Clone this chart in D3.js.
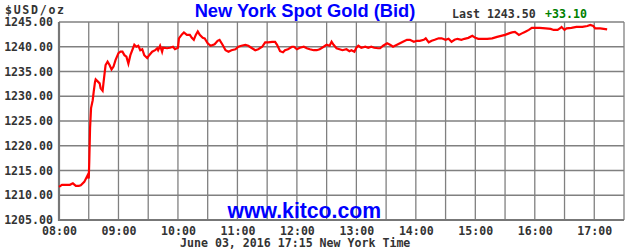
<!DOCTYPE html>
<html lang="en">
    <head>
        <meta charset="utf-8">
        <title>New York Spot Gold</title>
        <script type="text/javascript" src="https://cdn.jsdelivr.net/npm/d3@7/dist/d3.min.js"></script>
        <style>
            body { margin: 0; background: #fff; }
            .mono { font-family: "DejaVu Sans Mono", monospace; font-weight: bold; font-size: 11.6px; fill: #333; }
            .grid line { stroke: #808080; stroke-width: 1.3; }
        </style>
    </head>
    <body>
        <svg width="630" height="250"></svg>
        <script type="text/javascript">
            // spot price
            var times = ["08:00", "08:03", "08:07", "08:11", "08:14", "08:17", "08:20", "08:22",
                "08:25:30", "08:27", "08:29", "08:30", "08:30:30", "08:31:20", "08:32:20", "08:34",
                "08:35", "08:36:20", "08:37", "08:39", "08:41", "08:42", "08:44", "08:45", "08:46",
                "08:47", "08:49", "08:51", "08:53", "08:55", "08:57", "09:00", "09:02", "09:04",
                "09:06", "09:08", "09:10", "09:12", "09:16", "09:18", "09:20", "09:22", "09:24",
                "09:26", "09:29", "09:31", "09:34", "09:37", "09:39", "09:40", "09:42", "09:44",
                "09:45", "09:49", "09:52", "09:55", "09:57", "10:00", "10:01", "10:04", "10:06",
                "10:09", "10:12", "10:14", "10:16", "10:18", "10:20", "10:22", "10:25", "10:27",
                "10:30", "10:33", "10:37", "10:40", "10:42", "10:45", "10:48", "10:51", "10:54",
                "10:58", "11:01", "11:04", "11:08", "11:11", "11:14", "11:18", "11:21", "11:25",
                "11:28", "11:31", "11:35", "11:38", "11:40", "11:43", "11:46", "11:48", "11:51",
                "11:55", "11:57", "12:00", "12:03", "12:07", "12:10", "12:13", "12:17", "12:20",
                "12:23", "12:27", "12:30", "12:33", "12:35", "12:37", "12:40", "12:43", "12:46",
                "12:50", "12:53", "12:55", "12:58", "13:00", "13:02", "13:05", "13:09", "13:12",
                "13:15", "13:18", "13:22", "13:24", "13:27", "13:31", "13:34", "13:37", "13:41",
                "13:44", "13:47", "13:51", "13:54", "13:58", "14:01", "14:04", "14:08", "14:10",
                "14:13", "14:16", "14:19", "14:23", "14:26", "14:30", "14:33", "14:36", "14:39",
                "14:42", "14:46", "14:49", "14:53", "14:57", "15:00", "15:03", "15:07", "15:12",
                "15:17", "15:22", "15:26", "15:30", "15:34", "15:37", "15:40", "15:44", "15:47",
                "15:50", "15:54", "15:57", "16:00", "16:05", "16:11", "16:16", "16:19", "16:23",
                "16:26", "16:27", "16:30", "16:32", "16:37", "16:42", "16:48", "16:53", "16:56",
                "16:59", "17:01", "17:06", "17:13"];
            var prices = [1211.7, 1212.1, 1212.1, 1212.1, 1212.4, 1211.9, 1211.9, 1212.0,
                1212.7, 1213.3, 1214.1, 1213.4, 1216.5, 1223.6, 1227.6, 1229.2,
                1230.9, 1232.9, 1233.4, 1233.0, 1232.6, 1231.6, 1231.1, 1232.9, 1234.6,
                1236.3, 1237.0, 1236.3, 1235.4, 1236.0, 1237.3, 1238.7, 1239.0, 1239.0,
                1238.3, 1238.0, 1236.6, 1238.3, 1240.4, 1240.0, 1240.2, 1239.3, 1239.5,
                1238.3, 1237.7, 1238.3, 1239.0, 1239.3, 1239.7, 1239.3, 1240.2, 1239.0,
                1239.8, 1239.7, 1239.8, 1240.0, 1239.5, 1239.8, 1241.7, 1242.5, 1242.9,
                1242.4, 1242.4, 1241.8, 1241.4, 1242.4, 1243.1, 1242.4, 1241.8, 1241.7,
                1240.7, 1240.2, 1240.5, 1241.2, 1241.4, 1240.4, 1239.3, 1239.0, 1239.3,
                1239.5, 1240.0, 1240.2, 1240.4, 1240.2, 1239.8, 1239.3, 1239.5, 1240.0,
                1240.9, 1240.9, 1241.0, 1241.0, 1240.4, 1239.1, 1238.9, 1239.3, 1239.5,
                1240.0, 1240.0, 1239.5, 1239.8, 1240.0, 1239.7, 1239.5, 1239.3, 1239.3,
                1239.5, 1240.0, 1240.4, 1240.2, 1241.0, 1240.4, 1239.7, 1239.5, 1239.3,
                1239.5, 1239.1, 1239.3, 1239.0, 1239.8, 1240.2, 1239.8, 1240.0, 1239.8,
                1240.0, 1239.8, 1239.7, 1239.7, 1240.2, 1240.7, 1240.4, 1240.0, 1240.4,
                1240.7, 1241.0, 1241.4, 1241.4, 1241.0, 1241.2, 1241.2, 1241.4, 1241.7,
                1240.9, 1241.2, 1241.4, 1241.7, 1241.7, 1241.4, 1241.6, 1241.0, 1241.4,
                1241.6, 1241.4, 1241.6, 1241.8, 1242.2, 1241.8, 1241.6, 1241.6, 1241.6,
                1241.7, 1242.0, 1242.2, 1242.4, 1242.7, 1242.9, 1243.0, 1242.4, 1242.7,
                1243.0, 1243.4, 1243.8, 1243.8, 1243.8, 1243.7, 1243.6, 1243.4, 1243.4,
                1243.8, 1244.0, 1243.4, 1243.7, 1243.8, 1244.0, 1244.0, 1244.2, 1244.4,
                1244.2, 1243.7, 1243.7, 1243.5];

            var yTicks = [1205, 1210, 1215, 1220, 1225, 1230, 1235, 1240, 1245];
            var xTicks = ["08:00", "09:00", "10:00", "11:00", "12:00", "13:00", "14:00", "15:00", "16:00", "17:00"];

            var parseTime = function(s) {
                return d3.timeParse("%H:%M:%S")(s.length == 5 ? s + ":00" : s);
            };

            var svg = d3.select("svg"),
                plotLeft = 59, plotRight = 624, plotTop = 22, plotBottom = 220;

            var x = d3.scaleTime()
                .domain([parseTime("08:00"), parseTime("17:30")])
                .range([plotLeft, plotRight]);

            var y = d3.scaleLinear()
                .domain([1205, 1245])
                .range([plotBottom, plotTop]);

            // grid
            var grid = svg.append("g").attr("class", "grid");
            grid.selectAll(".h")
                .data(yTicks)
                .enter().append("line")
                .attr("x1", plotLeft).attr("x2", plotRight)
                .attr("y1", function(d) { return y(d); })
                .attr("y2", function(d) { return y(d); });

            grid.selectAll(".v")
                .data(d3.timeMinute.every(30).range(x.domain()[0], d3.timeMinute.offset(x.domain()[1], 1)))
                .enter().append("line")
                .attr("y1", plotTop).attr("y2", plotBottom)
                .attr("x1", function(d) { return x(d); })
                .attr("x2", function(d) { return x(d); });

            // left and bottom border, a bit heavier
            svg.append("path")
                .attr("d", "M" + plotLeft + "," + plotTop + "V" + plotBottom + "H" + plotRight)
                .attr("fill", "none")
                .attr("stroke", "#777")
                .attr("stroke-width", 2.2);

            // y axis labels
            svg.append("g")
                .attr("transform", "translate(" + plotLeft + ",0)")
                .call(d3.axisLeft(y).tickValues(yTicks).tickFormat(d3.format(".2f")).tickSize(0).tickPadding(6))
                .call(function(g) { g.select(".domain").remove(); })
                .selectAll("text")
                  .attr("class", "mono")
                  .attr("fill", null);

            // x axis labels
            svg.append("g")
                .attr("transform", "translate(0," + plotBottom + ")")
                .call(d3.axisBottom(x).tickValues(xTicks.map(parseTime)).tickFormat(d3.timeFormat("%H:%M")).tickSize(0).tickPadding(7))
                .call(function(g) { g.select(".domain").remove(); })
                .selectAll("text")
                  .attr("class", "mono")
                  .attr("fill", null);
            svg.selectAll("g").attr("font-family", null).attr("font-size", null);

            // price line
            var line = d3.line()
                .x(function(d, i) { return x(parseTime(times[i])); })
                .y(function(d) { return y(d); });

            svg.append("path")
                .datum(prices)
                .attr("d", line)
                .attr("fill", "none")
                .attr("stroke", "#ff0000")
                .attr("stroke-width", 2.2)
                .attr("stroke-linejoin", "miter");

            // texts
            svg.append("text")
                .attr("class", "mono")
                .attr("x", 5).attr("y", 13.5)
                .style("letter-spacing", "1.7px")
                .text("$USD/oz");

            svg.append("text")
                .attr("x", 305).attr("y", 16.7)
                .attr("text-anchor", "middle")
                .attr("font-family", "Liberation Sans, Arial, sans-serif")
                .attr("font-weight", "bold")
                .attr("font-size", "18.3px")
                .attr("fill", "#0000ff")
                .text("New York Spot Gold (Bid)");

            svg.append("text")
                .attr("class", "mono")
                .attr("x", 452).attr("y", 18.3)
                .text("Last 1243.50");

            svg.append("text")
                .attr("class", "mono")
                .attr("x", 545).attr("y", 18.3)
                .style("fill", "#008000")
                .text("+33.10");

            svg.append("text")
                .attr("x", 304.3).attr("y", 218.3)
                .attr("text-anchor", "middle")
                .attr("font-family", "Liberation Sans, Arial, sans-serif")
                .attr("font-weight", "bold")
                .attr("font-size", "21.2px")
                .attr("fill", "#0000ff")
                .text("www.kitco.com");

            svg.append("text")
                .attr("class", "mono")
                .attr("x", 180).attr("y", 246.7)
                .text("June 03, 2016 17:15 New York Time");
        </script>
    </body>
</html>
